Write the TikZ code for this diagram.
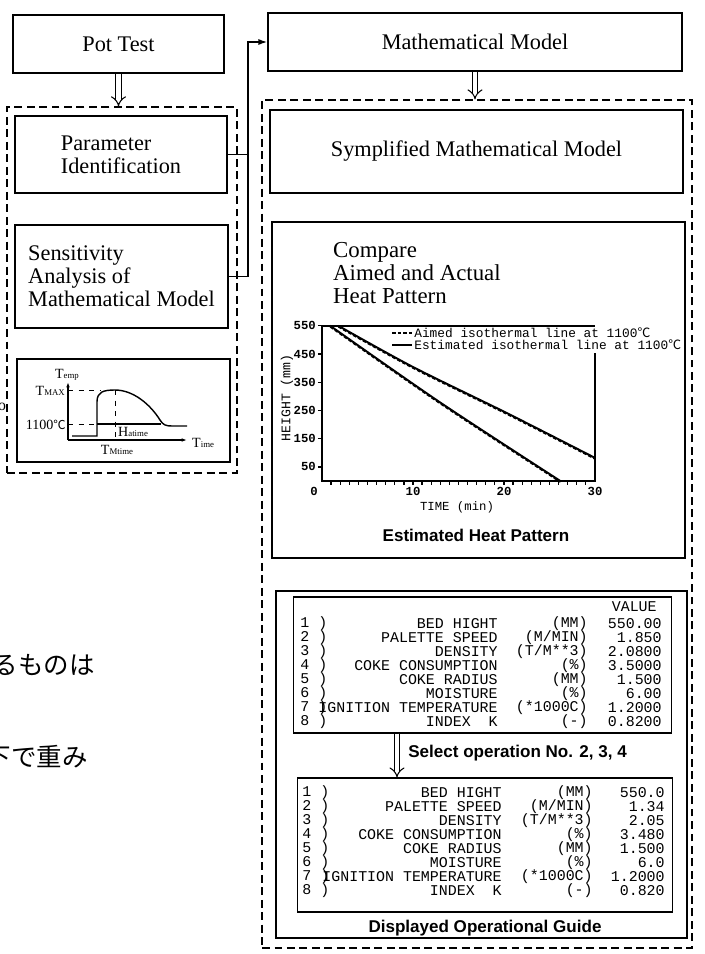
\documentclass[tikz,border=0pt]{standalone}
\usepackage{fontspec}
\setmainfont{Liberation Serif}
\setsansfont{Liberation Sans}
\setmonofont{Liberation Mono}
\newfontfamily\cjk{Noto Sans CJK JP}
\usetikzlibrary{positioning,arrows.meta,calc}

\begin{document}
\begin{tikzpicture}[x=0.02cm,y=-0.02cm,>=Latex,
  box/.style={draw,line width=1pt,inner sep=0pt,font=\fontsize{12.7}{13}\selectfont},
  grp/.style={draw,line width=0.8pt,dash pattern=on 4.5pt off 2.6pt,inner sep=0pt},
  tabl/.style={draw,line width=0.6pt,inner sep=0pt},
  dbl/.style={double,double distance=2.4pt,line width=0.6pt,-{Implies[length=5pt,width=8pt]}},
  mono/.style={font=\ttfamily\fontsize{8.5}{9}\selectfont,inner sep=0pt},
  legend/.style={font=\ttfamily\fontsize{7.3}{8}\selectfont,inner sep=0pt},
  ticklbl/.style={font=\ttfamily\bfseries\fontsize{7}{7}\selectfont,inner sep=1pt},
  small/.style={font=\fontsize{8}{8}\selectfont,inner sep=0.5pt},
  heading/.style={font=\sffamily\bfseries\fontsize{9.7}{11}\selectfont,inner sep=0pt}]
  \useasboundingbox (0,0) rectangle (705,954);
  \clip (0,0) rectangle (705,954);

  \node[box,minimum width=4.22cm,minimum height=1.16cm] (pot) at (118.5,44) {Pot Test};
  \node[box,minimum width=8.28cm,minimum height=1.16cm] (math) at (475,42) {Mathematical Model};
  \node[grp,minimum width=4.6cm,minimum height=7.32cm] (lgrp) at (122,290) {};
  \node[box,minimum width=4.24cm,minimum height=1.54cm,align=left] (param) at (121,154.5) {Parameter\\Identification};
  \node[box,minimum width=4.26cm,minimum height=2.06cm,align=left] (sens) at (121.5,276.5) {Sensitivity\\Analysis of\\Mathematical Model};
  \node[box,minimum width=4.26cm,minimum height=2.06cm] (heat) at (123.5,410.5) {};
  \node[grp,minimum width=8.6cm,minimum height=16.96cm] (rgrp) at (477,524) {};
  \node[box,minimum width=8.26cm,minimum height=1.66cm] (simp) at (476.5,151.5) {Symplified Mathematical Model};
  \node[box,minimum width=8.26cm,minimum height=6.72cm] (cmp) at (478.5,390) {};
  \node[box,minimum width=8.22cm,minimum height=6.94cm] (guide) at (481.5,764.5) {};
  \node[tabl,minimum width=7.58cm,minimum height=2.72cm] (tab1) at (482.5,665) {};
  \node[tabl,minimum width=7.52cm,minimum height=2.68cm] (tab2) at (485,845) {};

  \draw[dbl] (pot.south) -- (pot.south |- lgrp.north);
  \draw[dbl] (math.south) -- (math.south |- rgrp.north);
  \coordinate (bend) at (248,42);
  \draw[line width=0.8pt] (param.east) -- (param.east -| bend);
  \draw[line width=0.8pt,-{Latex[length=5pt,width=3.5pt]}] (sens.east) -| (bend) -- (math.west);

  \draw[line width=0.6pt,-{Latex[length=3pt,width=2pt]}] (68,440) -- (68,382);
  \draw[line width=0.6pt,-{Latex[length=3pt,width=2pt]}] (68,440) -- (187,440);
  \draw[line width=0.8pt] (72,436) -- (97,436) -- (97,402) .. controls (97,392) and (103,390) .. (115,390) .. controls (133,390) and (150,404) .. (160,420) .. controls (163,425) and (166,426) .. (172,426) -- (187,426);
  \draw[dashed,line width=0.5pt] (68,390) -- (100,390) (115,390) -- (115,437) (68,424) -- (97,424);
  \draw[line width=0.6pt] (97,424) -- (161,424);
  \node[small] (temp) at (67,375) {T{\tiny emp}};
  \node[small,anchor=east] (tmax) at (66,391) {T{\tiny MAX}};
  \node[small,anchor=east] (t1100) at (67,425) {1100{\cjk\fontsize{7}{7}\selectfont ℃}};
  \node[small,anchor=west] (hat) at (117,432) {H{\tiny atime}};
  \node[small] (tmt) at (117,450) {T{\tiny Mtime}};
  \node[small,anchor=west] (tim) at (191,443) {T{\tiny ime}};
  \node[font=\small] (frag) at (2,407) {o};

  \node[anchor=west,align=left,font=\fontsize{13}{13.3}\selectfont] (cmptxt) at (327,273) {Compare\\Aimed and Actual\\Heat Pattern};
  \begin{scope}[shift={(322,481)},x=0.182cm,y=0.00564cm]
    \draw[line width=1.2pt] (0,550) -- (0,0) -- (30,0) -- (30,454);
    \draw[line width=1.2pt] (0,550) -- (30,550);
    \foreach \t in {1,...,29} \draw[line width=0.7pt] (\t,0) -- (\t,-14);
    \foreach \h in {50,150,...,550} {
      \draw[line width=0.7pt] (-0.45,\h) -- (0,\h);
      \node[ticklbl,anchor=east] (yl\h) at (-0.45,\h) {\h};
    }
    \draw[line width=1.1pt] plot[smooth,tension=0.5] coordinates {(0.9,550) (13,278) (26.2,0)};
    \draw[line width=1.1pt] plot[smooth,tension=0.5] coordinates {(1.8,550) (10,404) (20.3,241) (30,82)};
    \draw[line width=0.9pt,dash pattern=on 2pt off 1.2pt,yshift=-0.6pt] plot[smooth,tension=0.5] coordinates {(0.9,550) (13,278) (26.2,0)};
    \draw[line width=0.9pt,dash pattern=on 2pt off 1.2pt,yshift=-0.6pt] plot[smooth,tension=0.5] coordinates {(1.8,550) (10,404) (20.3,241) (30,82)};
  \end{scope}
  \draw[line width=0.9pt,dash pattern=on 2pt off 1.2pt] (392,333) -- (412,333);
  \draw[line width=0.9pt] (392,345) -- (412,345);
  \node[legend,anchor=west] (lga) at (414,333) {Aimed isothermal line at 1100{\cjk ℃}};
  \node[legend,anchor=west] (lgb) at (414,345) {Estimated isothermal line at 1100{\cjk ℃}};
  \node[font=\ttfamily\fontsize{7.5}{8}\selectfont,rotate=90] (ylab) at (287,398) {HEIGHT (mm)};
  \node[font=\ttfamily\fontsize{7}{8}\selectfont] (xlab) at (457,507) {TIME (min)};
  \node[ticklbl] (x0) at (314,491) {0};
  \node[ticklbl] (x10) at (413,491) {10};
  \node[ticklbl] (x20) at (504,491) {20};
  \node[ticklbl] (x30) at (595,491) {30};
  \node[heading] (est) at (476,535) {Estimated Heat Pattern};

  \node[mono,anchor=east] (val) at (657,607) {VALUE};
  \foreach \nm/\un/\va [count=\i] in {BED HIGHT/(MM)/550.00, PALETTE SPEED/{(M/MIN)}/1.850, DENSITY/{(T/M**3)}/2.0800, COKE CONSUMPTION/(\%)/3.5000, COKE RADIUS/(MM)/1.500, MOISTURE/(\%)/6.00, IGNITION TEMPERATURE/(*1000C)/1.2000, INDEX~~K/(-)/0.8200} {
    \node[mono,anchor=west] (an\i) at (300,610+13.9*\i) {\i\ )};
    \node[mono,anchor=east] (am\i) at (498,610+13.9*\i) {\nm};
    \node[mono,anchor=east] (au\i) at (588,610+13.9*\i) {\un};
    \node[mono,anchor=east] (av\i) at (662,610+13.9*\i) {\va};
  }
  \coordinate (sx) at (397,0);
  \draw[dbl] (tab1.south -| sx) -- (tab2.north -| sx);
  \node[heading,anchor=west] (sel) at (408,753) {Select operation No. 2, 3, 4};
  \foreach \nm/\un/\va [count=\i] in {BED HIGHT/(MM)/550.0, PALETTE SPEED/{(M/MIN)}/1.34, DENSITY/{(T/M**3)}/2.05, COKE CONSUMPTION/(\%)/3.480, COKE RADIUS/(MM)/1.500, MOISTURE/(\%)/6.0, IGNITION TEMPERATURE/(*1000C)/1.2000, INDEX~~K/(-)/0.820} {
    \node[mono,anchor=west] (bn\i) at (302,779+14*\i) {\i\ )};
    \node[mono,anchor=east] (bm\i) at (502,779+14*\i) {\nm};
    \node[mono,anchor=east] (bu\i) at (593,779+14*\i) {\un};
    \node[mono,anchor=east] (bv\i) at (665,779+14*\i) {\va};
  }
  \node[heading] (disp) at (485,928) {Displayed Operational Guide};

  \node[anchor=west,font=\cjk\fontsize{14.5}{15}\selectfont,inner sep=0pt] (jp1) at (-7.6,665) {るものは};
  \node[anchor=west,font=\cjk\fontsize{14.5}{15}\selectfont,inner sep=0pt] (jp2) at (-14.6,757) {下で重み};
\end{tikzpicture}
\end{document}
